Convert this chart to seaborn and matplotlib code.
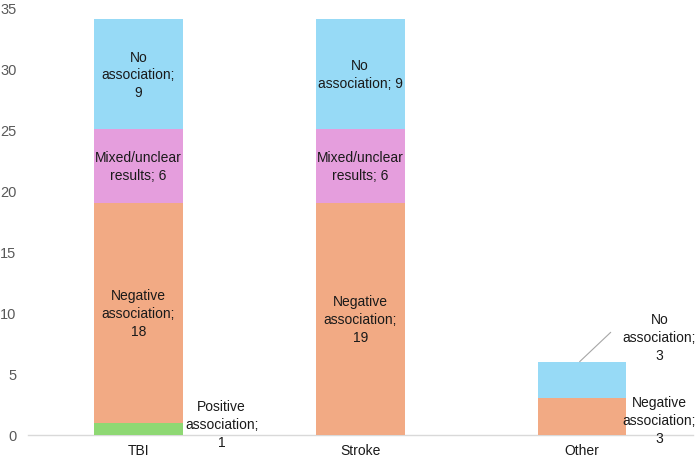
import matplotlib
matplotlib.use('Agg')
import matplotlib.pyplot as plt
import numpy as np
import pandas as pd
import seaborn as sns

# Data
categories = ["TBI", "Stroke", "Other"]
positive = [1, 0, 0]
negative = [18, 19, 3]
mixed = [6, 6, 0]
no_assoc = [9, 9, 3]

series = [
    ("Positive association", positive, "#8ED873"),
    ("Negative association", negative, "#F2AA84"),
    ("Mixed/unclear results", mixed, "#E59EDD"),
    ("No association", no_assoc, "#97DAF6"),
]

sns.set_style("white")
plt.rcParams['font.family'] = ['Liberation Sans', 'DejaVu Sans']

fig = plt.figure(figsize=(7, 4.6), dpi=100)
ax = fig.add_axes([0.0396, 0.0522, 0.95, 0.93])

bottom = np.zeros(len(categories))
for name, vals, color in series:
    df = pd.DataFrame({"cat": categories, "val": vals})
    sns.barplot(data=df, x="cat", y="val", color=color, width=0.4,
                bottom=bottom, ax=ax, saturation=1, linewidth=0)
    bottom = bottom + np.array(vals)

TXT = dict(fontsize=10, color="#1a1a1a", linespacing=1.35, ha="center", va="center")

# labels inside bars
def inside(i, base, val, text):
    ax.text(i, base + val / 2, text, **TXT)

inside(0, 1, 18, "Negative\nassociation;\n18")
inside(0, 19, 6, "Mixed/unclear\nresults; 6")
inside(0, 25, 9, "No\nassociation;\n9")
inside(1, 0, 19, "Negative\nassociation;\n19")
inside(1, 19, 6, "Mixed/unclear\nresults; 6")
inside(1, 25, 9, "No\nassociation; 9")

# outside labels
ax.text(0.375, 0.9, "Positive\nassociation;\n1", **TXT)
ax.text(2.35, 1.2, "Negative\nassociation;\n3", **TXT)
ax.text(2.35, 8.0, "No\nassociation;\n3", **TXT)
ax.plot([1.99, 2.13], [6.0, 8.4], color="#a6a6a6", linewidth=0.8)

ax.set_xlim(-0.5, 2.5)
ax.set_ylim(0, 35)
ax.set_yticks(range(0, 36, 5))
ax.set_xlabel("")
ax.set_ylabel("")
for s in ["top", "right", "left"]:
    ax.spines[s].set_visible(False)
ax.spines["bottom"].set_color("#d9d9d9")
ax.spines["bottom"].set_linewidth(1)
ax.spines["bottom"].set_zorder(0)
ax.tick_params(axis="both", length=0, labelsize=10.5, colors="#595959")
ax.tick_params(axis="x", pad=6, colors="#1a1a1a", labelsize=10)
ax.tick_params(axis="y", pad=8)

fig.savefig("out.png", dpi=100)
